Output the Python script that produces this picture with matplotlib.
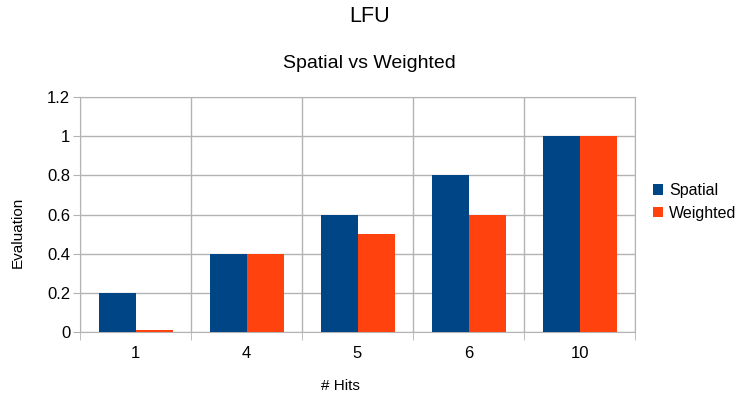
import numpy as np
import matplotlib.pyplot as plt

plt.rcParams['font.family'] = ['Liberation Sans', 'DejaVu Sans']

# Data
hits = ['1', '4', '5', '6', '10']
spatial = [0.2, 0.4, 0.6, 0.8, 1.0]
weighted = [0.01, 0.4, 0.5, 0.6, 1.0]

grid_color = '#b3b3b3'

fig = plt.figure(figsize=(7.41, 3.95), dpi=100)
ax = fig.add_axes([80 / 741, 1 - 332 / 395, 555 / 741, 235 / 395])

x = np.arange(len(hits))
w = 1 / 3
ax.bar(x - w / 2, spatial, width=w, color='#004586', label='Spatial', zorder=3)
ax.bar(x + w / 2, weighted, width=w, color='#ff420e', label='Weighted', zorder=3)

ax.set_xlim(-0.5, len(hits) - 0.5)
ax.set_ylim(0, 1.2)
ax.set_yticks(np.arange(0, 1.21, 0.2))
ax.set_yticklabels(['0', '0.2', '0.4', '0.6', '0.8', '1', '1.2'], fontsize=12)

# category labels centred, ticks at category boundaries
ax.set_xticks(x)
ax.set_xticklabels(hits, fontsize=12)
ax.tick_params(axis='x', length=0, pad=10)
ax.set_xticks(np.arange(-0.5, len(hits)), minor=True)
ax.tick_params(axis='x', which='minor', length=6, color=grid_color)
ax.tick_params(axis='y', length=5, color=grid_color, pad=2)

ax.yaxis.grid(True, color=grid_color, linewidth=1, zorder=0)
ax.xaxis.grid(True, which='minor', color=grid_color, linewidth=1, zorder=0)
for s in ax.spines.values():
    s.set_color(grid_color)

# axis titles and chart titles, placed like the LibreOffice original
fig.text(340 / 741, 1 - 386 / 395, '# Hits', ha='center', va='center', fontsize=11)
fig.text(18 / 741, 1 - 232 / 395, 'Evaluation', ha='center', va='center',
         rotation=90, fontsize=11)
fig.text(370 / 741, 1 - 17 / 395, 'LFU', ha='center', va='center', fontsize=15.5)
fig.text(369 / 741, 1 - 63 / 395, 'Spatial vs Weighted', ha='center', va='center',
         fontsize=14)

ax.legend(loc='center left', bbox_to_anchor=(653 / 741, 1 - 202 / 395),
          bbox_transform=fig.transFigure, frameon=False, borderpad=0,
          borderaxespad=0, fontsize=11.5, handlelength=0.65, handleheight=0.65,
          handletextpad=0.35, labelspacing=0.45)

fig.savefig('out.png', dpi=100)
